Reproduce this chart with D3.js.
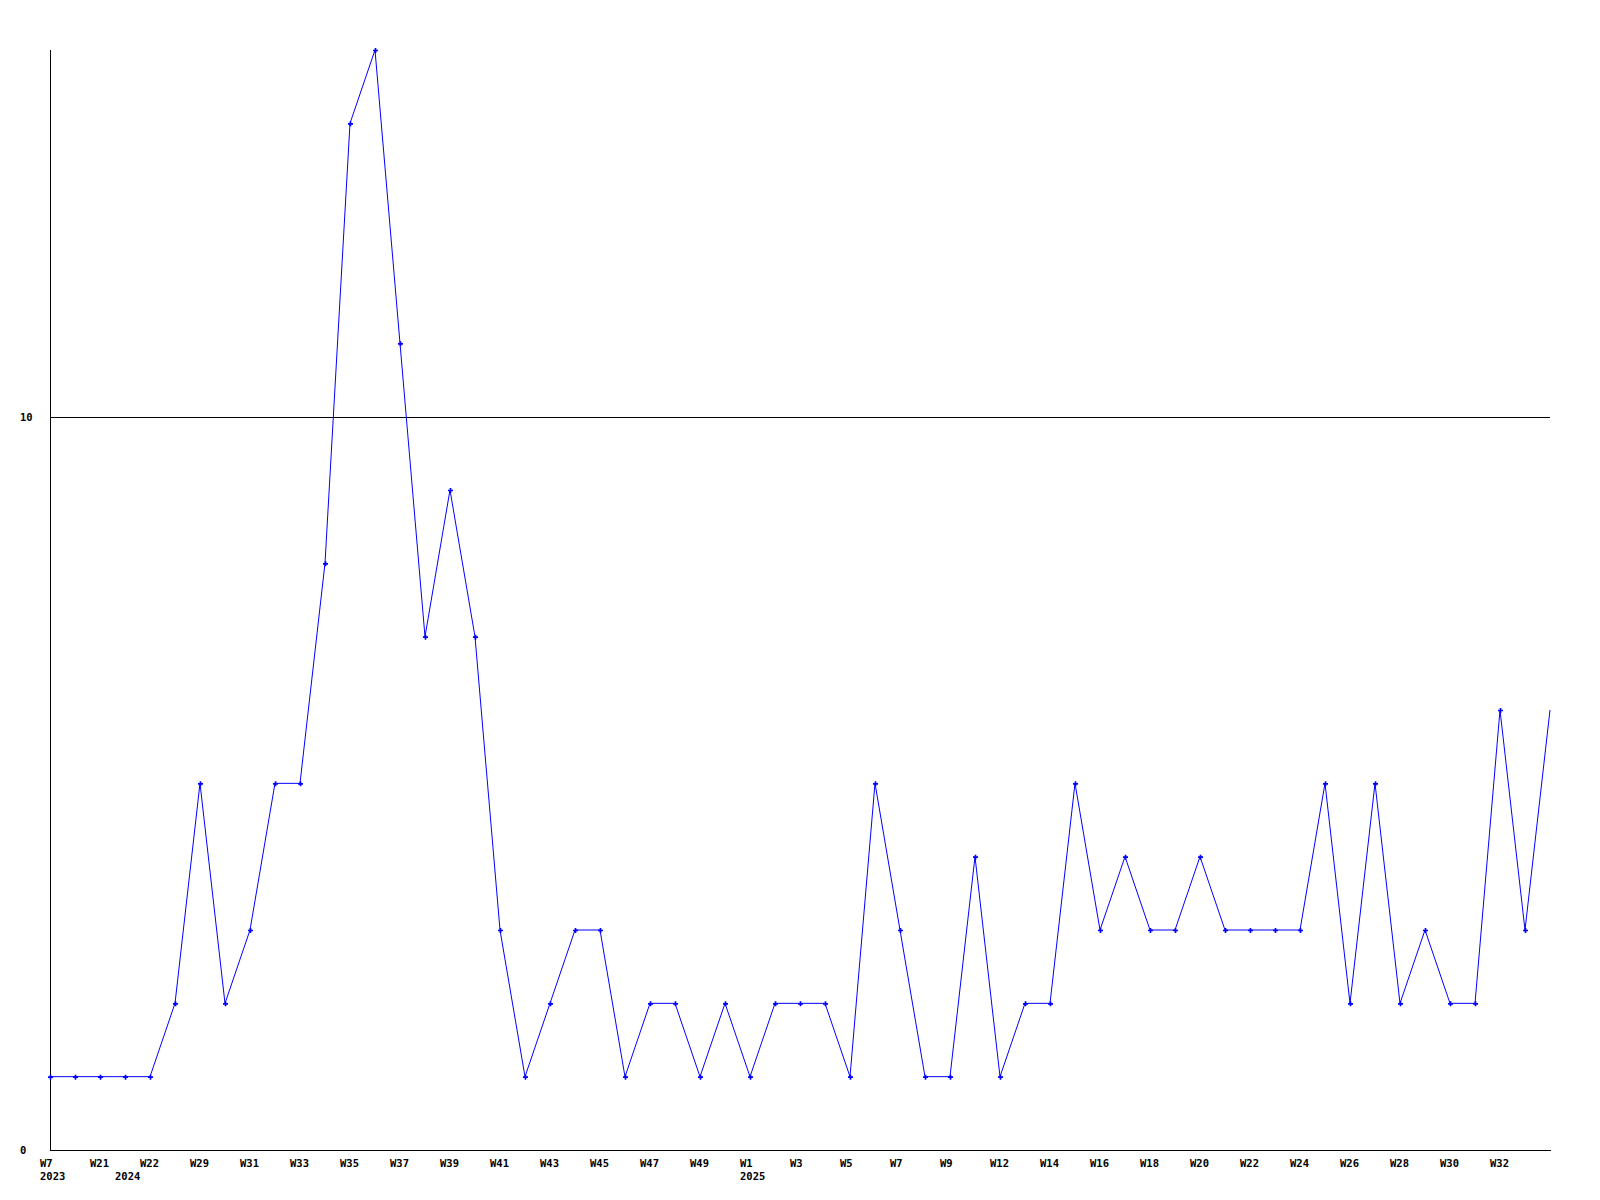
<!DOCTYPE html>
<html>
<head>
<meta charset="utf-8">
<script src="https://cdn.jsdelivr.net/npm/d3@7"></script>
<style>
  html, body { margin: 0; padding: 0; background: #fff; }
  svg { display: block; }
  text { font-family: "DejaVu Sans Mono", "Liberation Mono", monospace; font-weight: bold; font-size: 10.5px; fill: #000; }
</style>
</head>
<body>
<svg id="chart" width="1600" height="1200"></svg>
<script>
// Category weeks (labels) and their years
const weeks = ["W7","W8","W21","W2","W22","W28","W29","W30","W31","W32","W33","W34","W35","W36","W37","W38","W39","W40","W41","W42","W43","W44","W45","W46","W47","W48","W49","W50","W1","W2","W3","W4","W5","W6","W7","W8","W9","W11","W12","W13","W14","W15","W16","W17","W18","W19","W20","W21","W22","W23","W24","W25","W26","W27","W28","W29","W30","W31","W32","W33","W34"];
const years = [2023,2023,2023,2024,2024,2024,2024,2024,2024,2024,2024,2024,2024,2024,2024,2024,2024,2024,2024,2024,2024,2024,2024,2024,2024,2024,2024,2024,2025,2025,2025,2025,2025,2025,2025,2025,2025,2025,2025,2025,2025,2025,2025,2025,2025,2025,2025,2025,2025,2025,2025,2025,2025,2025,2025,2025,2025,2025,2025,2025,2025];
// Series values
const values = [1,1,1,1,1,2,5,2,3,5,5,8,14,15,11,7,9,7,3,1,2,3,3,1,2,2,1,2,1,2,2,2,1,5,3,1,1,4,1,2,2,5,3,4,3,3,4,3,3,3,3,5,2,5,2,3,2,2,6,3,6];
// Y tick values
const yTicks = [0, 10];
const yMax = 15;

const svg = d3.select("#chart");
const mLeft = 50, mRight = 1550, mTop = 50, mBottom = 1150;

const idx = values.map((d, i) => i);
const x = d3.scalePoint().domain(idx).range([mLeft, mRight]);
const y = d3.scaleLinear().domain([0, yMax]).range([mBottom, mTop]);

// Horizontal grid line(s) for non-zero ticks
svg.append("g").selectAll("line")
  .data(yTicks.filter(t => t !== 0))
  .join("line")
  .attr("x1", mLeft).attr("x2", mRight)
  .attr("y1", d => Math.round(y(d)) + 0.5).attr("y2", d => Math.round(y(d)) + 0.5)
  .attr("stroke", "#000").attr("stroke-width", 1)
  .attr("shape-rendering", "crispEdges");

// Axes lines
svg.append("line")
  .attr("x1", mLeft + 0.5).attr("x2", mLeft + 0.5)
  .attr("y1", mTop).attr("y2", mBottom + 0.5)
  .attr("stroke", "#000").attr("shape-rendering", "crispEdges");
svg.append("line")
  .attr("x1", mLeft).attr("x2", mRight + 1)
  .attr("y1", mBottom + 0.5).attr("y2", mBottom + 0.5)
  .attr("stroke", "#000").attr("shape-rendering", "crispEdges");

// Y tick labels
svg.append("g").selectAll("text")
  .data(yTicks)
  .join("text")
  .attr("x", 20)
  .attr("y", d => y(d) + 4)
  .attr("text-anchor", "start")
  .text(d => d);

// X tick labels (every other category), year under first point of each year
const xg = svg.append("g");
idx.forEach(i => {
  if (i % 2 === 0 && i < values.length - 1) {
    xg.append("text")
      .attr("x", x(i) - 10)
      .attr("y", 1167)
      .text(weeks[i]);
  }
  if (i === 0 || years[i] !== years[i - 1]) {
    xg.append("text")
      .attr("x", x(i) - 10)
      .attr("y", 1180)
      .text(years[i]);
  }
});

// Line
const line = d3.line().x((d, i) => x(i)).y(d => y(d));
svg.append("path")
  .datum(values)
  .attr("d", line)
  .attr("fill", "none")
  .attr("stroke", "#0000ff")
  .attr("stroke-width", 1);

// Markers (last point has none)
svg.append("g").selectAll("path")
  .data(values.slice(0, values.length - 1))
  .join("path")
  .attr("d", d3.symbol(d3.symbolCross, 14))
  .attr("transform", (d, i) => `translate(${x(i) + 0.5},${y(d) + 0.5})`)
  .attr("fill", "#0000ff");
</script>
</body>
</html>
